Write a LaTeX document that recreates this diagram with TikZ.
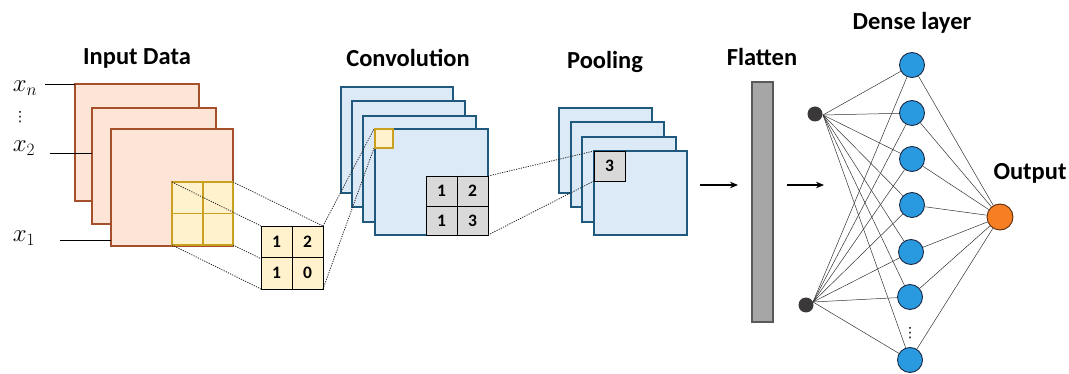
\documentclass[tikz,border=0pt]{standalone}
\usepackage{fontspec}
\setsansfont{Carlito}
\newfontfamily\symfont{DejaVu Sans}
\usetikzlibrary{arrows.meta}
\definecolor{inFill}{HTML}{FCE4D6}
\definecolor{inLine}{HTML}{A5502A}
\definecolor{winFill}{HTML}{FFF2CC}
\definecolor{winLine}{HTML}{C9A020}
\definecolor{cvFill}{HTML}{DCEAF7}
\definecolor{cvLine}{HTML}{1F5A7E}
\definecolor{cellGray}{HTML}{D9D9D9}
\definecolor{barGray}{HTML}{A6A6A6}
\definecolor{barLine}{HTML}{595959}
\definecolor{denseFill}{HTML}{2A9AE0}
\definecolor{denseLine}{HTML}{1A2A44}
\definecolor{outFill}{HTML}{F57F22}
\definecolor{outLine}{HTML}{5A2A10}
\definecolor{dotFill}{HTML}{3A3838}
\begin{document}
\begin{tikzpicture}[x=1pt,y=-1pt,
  title/.style={font=\sffamily\bfseries\fontsize{24.5}{28}\selectfont},
  num/.style={font=\sffamily\bfseries\fontsize{17.5}{20}\selectfont},
  var/.style={font=\fontsize{26}{30}\selectfont,inner sep=1pt},
  dots/.style={font=\symfont\fontsize{14}{15}\selectfont,inner sep=0pt},
  inmap/.style={draw=inLine,fill=inFill,line width=1.3pt},
  cvmap/.style={draw=cvLine,fill=cvFill,line width=1.3pt},
  win/.style={draw=winLine,fill=winFill,line width=1.5pt},
  cell/.style={draw=black,line width=0.9pt},
  link/.style={black!85,line width=0.8pt,dash pattern=on 1.2pt off 1.2pt},
  wire/.style={black!80,line width=0.5pt},
  feed/.style={-{Stealth[length=8pt,width=6.5pt]},line width=1.2pt},
  innode/.style={circle,fill=dotFill,inner sep=0pt,minimum size=15pt},
  dense/.style={circle,draw=denseLine,fill=denseFill,line width=0.9pt,inner sep=0pt,minimum size=25pt},
  outnode/.style={circle,draw=outLine,fill=outFill,line width=0.9pt,inner sep=0pt,minimum size=26pt}]
\useasboundingbox (0,0) rectangle (1069,374);

% ---------- input channels ----------
\node[title] (tIn) at (137,58) {Input Data};
\draw[inmap] (75,84) rectangle (199,201);
\draw[inmap] (92,108) rectangle (216,224);
\draw[inmap] (111,129) rectangle (233,246);
\draw[win] (172,182) rectangle (233,245);
\draw[winLine,line width=1.5pt] (203,182) -- (203,245) (172,213.5) -- (233,213.5);
\coordinate (wTL) at (172,182); \coordinate (wTR) at (233,182);
\coordinate (wBL) at (172,245); \coordinate (wBR) at (233,245);

\node[var] (xn) at (25,88) {$x_n$};
\node[dots] (xd) at (20,117) {⋮};
\node[var] (x2) at (24,148) {$x_2$};
\node[var] (x1) at (24,238) {$x_1$};
\coordinate (an) at (75,84); \coordinate (a2) at (92,153); \coordinate (a1) at (111,240);
\draw[line width=0.9pt] (45,84) -- (an);
\draw[line width=0.9pt] (50,153) -- (a2);
\draw[line width=0.9pt] (60,240) -- (a1);

% ---------- convolved values ----------
\coordinate (kTL) at (261,226); \coordinate (kTR) at (323,226);
\coordinate (kBL) at (261,289); \coordinate (kBR) at (323,289);
\draw[link] (wTL) -- (kTL) (wTR) -- (kTR) (wBL) -- (kBL) (wBR) -- (kBR);
\draw[cell,fill=winFill] (kTL) rectangle (kBR);
\draw[cell] (292,226) -- (292,289) (261,257.5) -- (323,257.5);
\node[num] (k11) at (276.5,242) {1};
\node[num] (k12) at (307.5,242) {2};
\node[num] (k21) at (276.5,273) {1};
\node[num] (k22) at (307.5,273) {0};

% ---------- convolution maps ----------
\node[title] (tCv) at (408,58) {Convolution};
\draw[cvmap] (341,87) rectangle (453,193);
\draw[cvmap] (352,101) rectangle (465,207);
\draw[cvmap] (363,116) rectangle (476,222);
\draw[cvmap] (375,129) rectangle (488,235);
\coordinate (sTL) at (374,129); \coordinate (sBL) at (374,148);
\draw[link] (kTR) -- (sTL) (kBR) -- (sBL);
\draw[win] (375,129) rectangle (393,148);
\coordinate (gTR) at (488,176); \coordinate (gBR) at (488,235);
\draw[cell,fill=cellGray] (426,176) rectangle (488,235);
\draw[cell] (457,176) -- (457,235) (426,206) -- (488,206);
\node[num] (g11) at (441.5,191) {1};
\node[num] (g12) at (472.5,191) {2};
\node[num] (g21) at (441.5,221) {1};
\node[num] (g22) at (472.5,221) {3};

% ---------- pooling maps ----------
\node[title] (tPl) at (605,62) {Pooling};
\draw[cvmap] (559,108) rectangle (652,193);
\draw[cvmap] (571,122) rectangle (664,207);
\draw[cvmap] (582,137) rectangle (676,222);
\draw[cvmap] (594,151) rectangle (687,235);
\coordinate (pTL) at (594,151); \coordinate (pBL) at (594,181);
\draw[link] (gTR) -- (pTL) (gBR) -- (pBL);
\draw[cell,fill=cellGray] (594,151) rectangle (625,181);
\node[num] (p1) at (609.5,166) {3};

% ---------- flatten ----------
\node[title] (tFl) at (762,57) {Flatten};
\node[draw=barLine,fill=barGray,line width=1.2pt,minimum width=21pt,minimum height=240pt,inner sep=0pt] (bar) at (762.5,202) {};
\coordinate (f1a) at (700,185); \coordinate (f1b) at (738,185);
\coordinate (f2a) at (787,185); \coordinate (f2b) at (824,185);
\draw[feed] (f1a) -- (f1b);
\draw[feed] (f2a) -- (f2b);

% ---------- dense network ----------
\node[title] (tDn) at (912,23) {Dense layer};
\node[title] (tOut) at (1030,173) {Output};
\coordinate (c1) at (823,115);
\coordinate (c2) at (813,302);
\node[outnode] (o) at (1000,217) {};
\foreach \n/\x/\y in {1/912/65,2/912/113,3/912/159,4/912/205,5/911/252,6/910/297,7/910/360}{
  \node[dense] (d\n) at (\x,\y) {};
}
\node[dots] (dd) at (910,333) {⋮};
\foreach \n in {1,...,7}{
  \draw[wire] (c1) -- (d\n);
  \draw[wire] (c2) -- (d\n);
  \draw[wire] (d\n) -- (o);
}
\node[innode] (i1) at (815,114) {};
\node[innode] (i2) at (806,305) {};
\end{tikzpicture}
\end{document}
